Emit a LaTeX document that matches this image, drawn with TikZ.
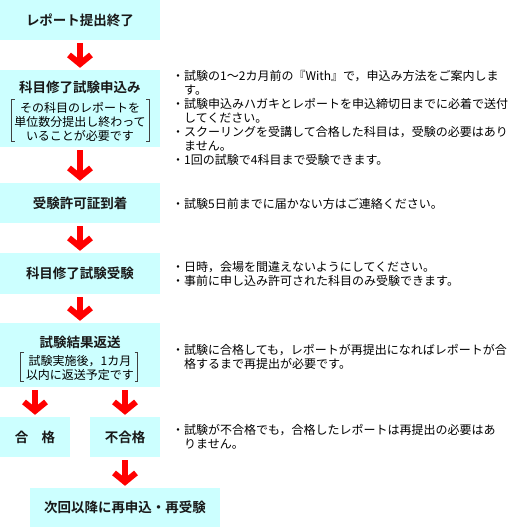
\documentclass[tikz,border=0pt]{standalone}
\usepackage{fontspec}
\setmainfont{Noto Sans CJK JP}[BoldFont={Noto Sans CJK JP Bold}]
\usetikzlibrary{arrows.meta}
\definecolor{boxcyan}{HTML}{CCFFFF}
\definecolor{arrred}{HTML}{FF0000}
\tikzset{
  x=1pt, y=-1pt,
  box/.style={fill=boxcyan, draw=none, inner sep=0pt},
  ttl/.style={inner sep=0pt, font=\bfseries\fontsize{13.5}{16}\selectfont, text=black!90},
  sub/.style={inner sep=0pt, align=center, font=\fontsize{12}{14}\selectfont},
  note/.style={inner sep=0pt, anchor=west, align=left, font=\fontsize{12}{14}\selectfont},
  flow/.style={draw=arrred, line width=6pt,
    -{Straight Barb[length=9pt,width=22pt,line width=6pt,sharp]},
    shorten <=3pt, shorten >=2pt},
  brk/.style={draw=black!75, line width=0.8pt}
}
\begin{document}
\begin{tikzpicture}
\path[fill=white] (0,0) rectangle (511,528);
\useasboundingbox (0,0) rectangle (511,528);

% boxes
\node[box, minimum width=160pt, minimum height=40pt] (b1) at (80,20) {};
\node[box, minimum width=160pt, minimum height=77pt] (b2) at (80,108.5) {};
\node[box, minimum width=160pt, minimum height=40pt] (b3) at (80,203) {};
\node[box, minimum width=160pt, minimum height=41pt] (b4) at (80,273.5) {};
\node[box, minimum width=160pt, minimum height=64pt] (b5) at (80,355) {};
\node[box, minimum width=70pt, minimum height=40pt] (g) at (35,437) {};
\node[box, minimum width=70pt, minimum height=40pt] (f) at (125,437) {};
\node[box, minimum width=190pt, minimum height=39pt] (r) at (125,507.5) {};

% titles
\node[ttl] (t1) at (b1) {レポート提出終了};
\node[ttl] (t2) at (80,87) {科目修了試験申込み};
\node[ttl] (t3) at (b3) {受験許可証到着};
\node[ttl] (t4) at (b4) {科目修了試験受験};
\node[ttl] (t5) at (80,342) {試験結果返送};
\node[ttl] (tg) at (g) {合\hspace{13.5pt}格};
\node[ttl] (tf) at (f) {不合格};
\node[ttl] (tr) at (r) {次回以降に再申込・再受験};

% sub texts with brackets
\node[sub] (s2) at (80,122) {その科目のレポートを\\単位数分提出し終わって\\いることが必要です};
\draw[brk] (14.5,99.5) -- (11,99.5) -- (11,141.5) -- (14.5,141.5);
\draw[brk] (146,99.5) -- (149.5,99.5) -- (149.5,141.5) -- (146,141.5);
\node[sub] (s5) at (80,368) {試験実施後，1カ月\\以内に返送予定です};
\draw[brk] (24,352.7) -- (20.7,352.7) -- (20.7,381.7) -- (24,381.7);
\draw[brk] (134.5,352.7) -- (137.7,352.7) -- (137.7,381.7) -- (134.5,381.7);

% arrows
\draw[flow] (b1.south) -- (b2.north);
\draw[flow] (b2.south) -- (b3.north);
\draw[flow] (b3.south) -- (b4.north);
\draw[flow] (b4.south) -- (b5.north);
\draw[flow] (b5.south -| g) -- (g.north);
\draw[flow] (b5.south -| f) -- (f.north);
\draw[flow] (f.south) -- (r.north);

% notes
\node[note] (n2) at (172,118) {・試験の1～2カ月前の『With』で，申込み方法をご案内しま\\
　す。\\
・試験申込みハガキとレポートを申込締切日までに必着で送付\\
　してください。\\
・スクーリングを受講して合格した科目は，受験の必要はあり\\
　ません。\\
・1回の試験で4科目まで受験できます。};
\node[note] (n3) at (172,204) {・試験5日前までに届かない方はご連絡ください。};
\node[note] (n4) at (172,273.5) {・日時，会場を間違えないようにしてください。\\
・事前に申し込み許可された科目のみ受験できます。};
\node[note] (n5) at (172,356.5) {・試験に合格しても，レポートが再提出になればレポートが合\\
　格するまで再提出が必要です。};
\node[note] (n6) at (172,437) {・試験が不合格でも，合格したレポートは再提出の必要はあ\\
　りません。};
\end{tikzpicture}
\end{document}
